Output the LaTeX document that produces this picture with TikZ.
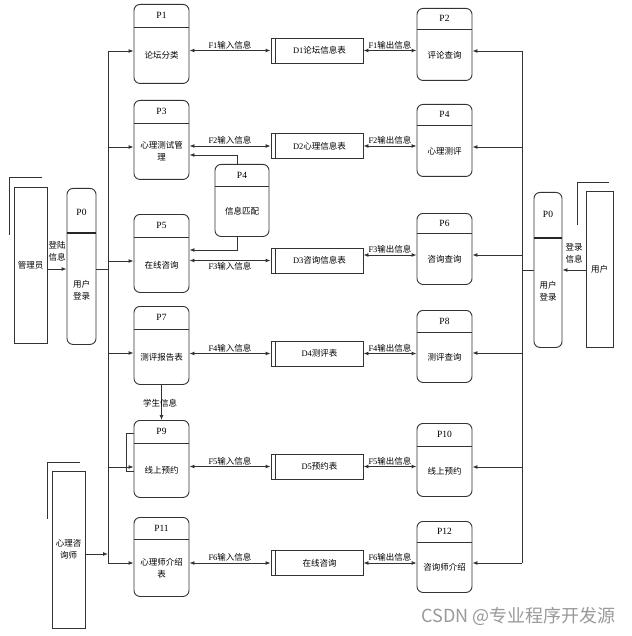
\documentclass[tikz,border=0pt]{standalone}
\usepackage{fontspec}
\setmainfont{Liberation Serif}
\newfontfamily\cjk{Noto Sans CJK SC}
\usetikzlibrary{arrows.meta,calc}
\newcommand\zh[1]{{\cjk #1}}
\tikzset{
  line/.style={draw=black!80, line width=0.9pt},
  arr/.style={line, -{Latex[length=5pt,width=4pt]}},
  darr/.style={line, {Latex[length=5pt,width=4pt]}-{Latex[length=5pt,width=4pt]}},
  procbox/.style={line, rectangle, rounded corners=6pt, minimum width=55pt, inner sep=0pt},
  storebox/.style={line, rectangle, minimum width=92pt, minimum height=25pt, inner sep=0pt},
  actorbox/.style={line, rectangle, inner sep=0pt},
  txt/.style={font=\fontsize{8.5}{12}\selectfont, inner sep=0pt, align=center},
  head/.style={font=\fontsize{9.5}{11}\selectfont, inner sep=0pt},
  flowlbl/.style={font=\fontsize{8.5}{10}\selectfont, inner sep=1pt},
}
% process box: name, x, top, height, header height, id, body
\newcommand\procnode[7]{%
  \node[procbox, minimum height=#4pt, anchor=north] (#1) at (#2,#3) {};
  \draw[line] ([yshift=-#5pt]#1.north west) -- ([yshift=-#5pt]#1.north east);
  \node[head] at ([yshift=-#5*0.5pt]#1.north) {#6};
  \node[txt] at ($(#1.south)!0.5!([yshift=-#5pt]#1.north)$) {#7};
}
% data store: name, y centre, text
\newcommand\storenode[3]{%
  \node[storebox] (#1) at (317,#2) {};
  \draw[line] ([xshift=5pt]#1.north west) -- ([xshift=5pt]#1.south west);
  \node[txt] at ([xshift=2.5pt]#1.center) {#3};
}
\begin{document}
\begin{tikzpicture}[x=1pt,y=-1pt]
\useasboundingbox (0,0) rectangle (631,636);

% ---- left column processes
\procnode{p1}{161.5}{4}{79}{23}{P1}{\zh{论坛分类}}
\procnode{p3}{161.5}{100}{79}{23}{P3}{\zh{心理测试管}\\\zh{理}}
\procnode{p5}{161.5}{214}{78}{23}{P5}{\zh{在线咨询}}
\procnode{p7}{161.5}{306}{78}{23}{P7}{\zh{测评报告表}}
\procnode{p9}{161.5}{420}{77}{23}{P9}{\zh{线上预约}}
\procnode{p11}{161.5}{517}{79}{22}{P11}{\zh{心理师介绍}\\\zh{表}}

% ---- right column processes
\procnode{p2}{444.5}{8}{72}{21}{P2}{\zh{评论查询}}
\procnode{p4}{444.5}{104}{72}{21}{P4}{\zh{心理测评}}
\procnode{p6}{444.5}{213}{71}{20}{P6}{\zh{咨询查询}}
\procnode{p8}{444.5}{310}{72}{22}{P8}{\zh{测评查询}}
\procnode{p10}{444.5}{423}{73}{23}{P10}{\zh{线上预约}}
\procnode{p12}{444.5}{521}{71}{21}{P12}{\zh{咨询师介绍}}

% ---- matching process between P3 and P5
\node[procbox, minimum width=54pt, minimum height=72pt, anchor=north] (pm) at (242,164) {};
\draw[line] ([yshift=-22pt]pm.north west) -- ([yshift=-22pt]pm.north east);
\node[head] at ([yshift=-11pt]pm.north) {P4};
\node[txt] at (242,211) {\zh{信息匹配}};

% ---- login processes
\node[procbox, minimum width=29pt, minimum height=156pt, anchor=north] (p0l) at (81.5,188) {};
\draw[draw=black!85, line width=1.6pt] ([yshift=-45pt]p0l.north west) -- ([yshift=-45pt]p0l.north east);
\node[head] at (81.5,212) {P0};
\node[txt] at (81.5,290) {\zh{用户}\\\zh{登录}};

\node[procbox, minimum width=28pt, minimum height=155pt, anchor=north] (p0r) at (548,192) {};
\draw[draw=black!85, line width=1.6pt] ([yshift=-46pt]p0r.north west) -- ([yshift=-46pt]p0r.north east);
\node[head] at (548,214) {P0};
\node[txt] at (548,291) {\zh{用户}\\\zh{登录}};

% ---- external entities
\node[actorbox, minimum width=33pt, minimum height=156pt] (adm) at (30.5,265) {};
\node[txt] at (adm) {\zh{管理员}};
\draw[line] (9,235) -- (9,177) -- (42,177);

\node[actorbox, minimum width=27pt, minimum height=156pt] (usr) at (599.5,269) {};
\node[txt] at (usr) {\zh{用户}};
\draw[line] (577,225) -- (577,182) -- (609,182);

\node[actorbox, minimum width=33pt, minimum height=157pt] (cns) at (68.5,549.5) {};
\node[txt] at (68.5,549) {\zh{心理咨}\\\zh{询师}};
\draw[line] (47,519) -- (47,462) -- (80,462);

% ---- data stores
\storenode{d1}{50.5}{D1\zh{论坛信息表}}
\storenode{d2}{146}{D2\zh{心理信息表}}
\storenode{d3}{260.5}{D3\zh{咨询信息表}}
\storenode{d4}{353.5}{D4\zh{测评表}}
\storenode{d5}{466.5}{D5\zh{预约表}}
\storenode{d6}{563}{\zh{在线咨询}}

% ---- flows between processes and stores
\coordinate (d3r) at ([yshift=5.5pt]d3.east);
\draw[darr] (p1.east |- d1) -- node[flowlbl, above] {F1\zh{输入信息}} (d1.west);
\draw[darr] (d1.east) -- node[flowlbl, above] {F1\zh{输出信息}} (p2.west |- d1);
\draw[darr] (p3.east |- d2) -- node[flowlbl, above] {F2\zh{输入信息}} (d2.west);
\draw[darr] (d2.east) -- node[flowlbl, above] {F2\zh{输出信息}} (p4.west |- d2);
\draw[darr] (p5.east |- d3) -- node[flowlbl, below] {F3\zh{输入信息}} (d3.west);
\draw[darr] (d3r) -- node[flowlbl, above] {F3\zh{输出信息}} (p6.west |- d3r);
\draw[darr] (p7.east |- d4) -- node[flowlbl, above] {F4\zh{输入信息}} (d4.west);
\draw[darr] (d4.east) -- node[flowlbl, above] {F4\zh{输出信息}} (p8.west |- d4);
\draw[darr] (p9.east |- d5) -- node[flowlbl, above] {F5\zh{输入信息}} (d5.west);
\draw[darr] (d5.east) -- node[flowlbl, above] {F5\zh{输出信息}} (p10.west |- d5);
\draw[darr] (p11.east |- d6) -- node[flowlbl, above] {F6\zh{输入信息}} (d6.west);
\draw[darr] (d6.east) -- node[flowlbl, above] {F6\zh{输出信息}} (p12.west |- d6);

% ---- matching process feeding P3 and P5
\coordinate (k1) at (237,155);
\coordinate (k2) at (237,250);
\draw[arr] ([xshift=-5pt]pm.north) -- (k1) -- (p3.east |- k1);
\draw[arr] ([xshift=-5pt]pm.south) -- (k2) -- (p5.east |- k2);

% ---- P7 to P9
\draw[arr] (p7.south) -- (p9.north);
\node[txt] at (160,403) {\zh{学生信息}};

% ---- bracket on the left of P9
\coordinate (b1) at (126,433);
\coordinate (b2) at (126,471);
\draw[line] (p9.west |- b1) -- (b1) -- (b2) -- (p9.west |- b2);

% ---- left bus
\coordinate (lb1) at (108,51);
\coordinate (lb2) at (108,147);
\coordinate (lb3) at (108,261);
\coordinate (lb4) at (108,353);
\coordinate (lb5) at (108,467);
\coordinate (lb6) at (108,563);
\coordinate (lbp) at (108,269);
\coordinate (lbc) at (108,554);
\draw[line] (lb1) -- (lb6);
\draw[arr] (lb1) -- (p1.west |- lb1);
\draw[arr] (lb2) -- (p3.west |- lb2);
\draw[arr] (lb3) -- (p5.west |- lb3);
\draw[arr] (lb4) -- (p7.west |- lb4);
\draw[arr] (lb5) -- (p9.west |- lb5);
\draw[arr] (lb6) -- (p11.west |- lb6);
\draw[line] (p0l.east |- lbp) -- (lbp);
\draw[arr] (adm.east |- lbp) -- (p0l.west |- lbp);
\node[txt] at (57,251) {\zh{登陆}\\\zh{信息}};
\draw[arr] (cns.east |- lbc) -- (lbc);

% ---- right bus
\coordinate (rb1) at (522,51);
\coordinate (rb2) at (522,147);
\coordinate (rb3) at (522,255);
\coordinate (rb4) at (522,353);
\coordinate (rb5) at (522,467);
\coordinate (rb6) at (522,563);
\coordinate (rbp) at (522,270);
\draw[line] (rb1) -- (rb6);
\draw[arr] (rb1) -- (p2.east |- rb1);
\draw[arr] (rb2) -- (p4.east |- rb2);
\draw[arr] (rb3) -- (p6.east |- rb3);
\draw[arr] (rb4) -- (p8.east |- rb4);
\draw[arr] (rb5) -- (p10.east |- rb5);
\draw[arr] (rb6) -- (p12.east |- rb6);
\draw[line] (p0r.west |- rbp) -- (rbp);
\draw[arr] (usr.west |- rbp) -- (p0r.east |- rbp);
\node[txt] at (574,253) {\zh{登录}\\\zh{信息}};

% ---- watermark
\node[font=\cjk\fontsize{18}{22}\selectfont, text=black!40, anchor=east, inner sep=0pt] (wm) at (616,616) {CSDN @专业程序开发源};
\end{tikzpicture}
\end{document}
